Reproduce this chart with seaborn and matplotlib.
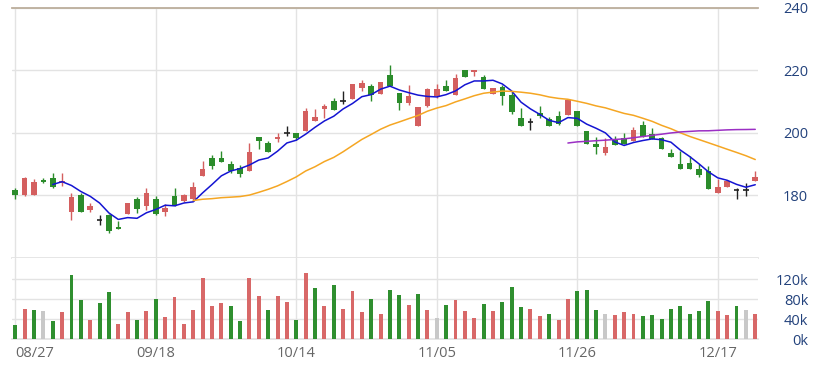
import numpy as np
import pandas as pd
import matplotlib
matplotlib.use("Agg")
import matplotlib.pyplot as plt
import seaborn as sns

# tick labels, one every 15 sessions
tick_labels = ["08/27", "09/18", "10/14", "11/05", "11/26", "12/17"]
price_ticks = [180, 200, 220, 240]
vol_ticks = [0, 40, 80, 120]

# daily prices
open_ = [181.75, 180.2, 180.2, 184.8, 185.7, 183.9, 174.8, 180.1, 175.4, 172.1,
         173.7, 170.0, 174.2, 178.8, 176.5, 178.8, 174.6, 179.8, 178.25, 178.8,
         186.2, 191.9, 192.0, 189.9, 188.9, 187.8, 198.7, 196.8, 197.9, 199.8,
         200.0, 200.5, 203.9, 207.6, 210.0, 210.0, 210.8, 214.3, 214.8, 212.4,
         218.3, 212.7, 209.5, 202.1, 208.5, 211.6, 214.8, 212.0, 220.0, 219.4,
         217.7, 212.4, 214.6, 212.0, 204.8, 203.3, 206.4, 204.4, 205.5, 205.8,
         206.9, 200.5, 196.3, 193.4, 198.1, 198.3, 197.3, 202.6, 199.5, 198.4,
         193.4, 190.1, 190.4, 188.5, 187.8, 180.7, 182.7, 181.8, 181.8, 184.6]
high = [182.5, 186.0, 185.2, 185.7, 187.0, 187.0, 180.9, 180.9, 177.7, 173.7,
        174.0, 171.9, 177.7, 179.6, 182.2, 179.8, 177.2, 182.2, 180.5, 184.2,
        191.0, 192.8, 194.1, 191.0, 189.6, 196.6, 198.7, 197.5, 199.9, 202.1,
        200.0, 207.9, 207.7, 209.2, 211.1, 213.4, 215.6, 217.0, 215.6, 216.1,
        221.7, 212.7, 215.4, 208.1, 214.3, 215.6, 217.0, 218.8, 220.0, 220.1,
        218.5, 214.3, 215.4, 213.4, 207.9, 204.8, 208.7, 205.0, 206.9, 210.6,
        206.9, 200.5, 198.7, 198.4, 198.9, 200.0, 201.9, 203.7, 201.6, 198.6,
        194.9, 194.1, 192.6, 189.9, 189.4, 185.15, 185.0, 182.2, 183.9, 187.8]
low = [179.0, 179.8, 180.0, 183.8, 182.2, 183.0, 172.2, 174.8, 174.8, 170.6,
       168.0, 169.3, 174.2, 174.5, 175.4, 173.7, 173.3, 176.7, 178.0, 178.25,
       186.2, 188.5, 190.6, 187.3, 186.0, 187.8, 194.9, 194.0, 197.1, 198.9,
       197.8, 200.5, 203.9, 204.8, 207.4, 209.2, 210.8, 213.4, 210.0, 212.4,
       214.8, 207.2, 209.0, 202.1, 208.1, 211.1, 213.2, 212.0, 217.9, 218.0,
       214.0, 212.4, 209.0, 206.1, 202.1, 201.0, 204.8, 202.1, 202.6, 205.8,
       202.1, 196.3, 193.1, 192.8, 196.0, 196.3, 197.3, 198.7, 198.1, 194.7,
       192.4, 188.5, 188.3, 186.0, 182.0, 180.7, 182.7, 179.0, 179.8, 184.6]
close = [180.1, 185.7, 184.4, 184.4, 182.8, 184.6, 179.6, 174.8, 176.7, 172.1,
         168.7, 169.3, 177.7, 175.6, 180.9, 174.0, 176.1, 176.7, 180.1, 182.8,
         188.3, 189.4, 190.6, 187.8, 186.7, 194.0, 197.3, 194.0, 198.6, 199.8,
         198.4, 206.9, 205.0, 208.7, 207.4, 210.0, 215.6, 215.9, 212.0, 216.1,
         214.8, 209.5, 211.6, 208.1, 214.0, 214.0, 213.2, 217.5, 217.9, 220.1,
         214.0, 214.3, 211.6, 206.6, 202.3, 203.3, 205.5, 202.1, 202.9, 210.4,
         202.1, 196.3, 195.5, 195.5, 196.0, 196.4, 201.0, 198.7, 198.1, 194.7,
         192.4, 188.5, 188.3, 186.4, 182.0, 182.8, 184.6, 181.8, 181.8, 186.0]
# volume in thousands
volume_k = [28.6, 61, 58.6, 56.6, 36.6, 54.6, 129, 79, 39, 72,
            94, 31, 54.6, 39, 56.6, 81, 44, 84, 31, 58.6,
            122, 66.6, 72, 66.6, 36.6, 122, 86.6, 58.6, 86.6, 74,
            39, 132, 102, 66.6, 109, 61, 96.6, 54.6, 81, 51,
            99, 89, 68.6, 91, 58.6, 43, 68.6, 78.6, 56.6, 43,
            71, 56.6, 74, 104, 64, 61, 46.6, 51, 39, 81,
            96.6, 99, 58.6, 51, 48.6, 54.6, 51, 46, 48.6, 41,
            61, 66, 51, 56.6, 76.6, 56.6, 48.6, 66.6, 58.6, 51]

df = pd.DataFrame({"open": open_, "high": high, "low": low,
                   "close": close, "vol": volume_k})
df["idx"] = np.arange(len(df))
df["ma5"] = df["close"].rolling(5).mean()
df["ma20"] = df["close"].rolling(20).mean()
df["ma60"] = df["close"].rolling(60).mean()

RED, GREEN, BLACK = "#d45f5f", "#2b8c2b", "#222222"
VRED, VGREEN, VGRAY = "#d86868", "#2f8f2f", "#c8c8c8"
GRID = "#e3e3e3"

candle_col = np.where(df.close > df.open, RED,
                      np.where(df.close < df.open, GREEN, BLACK))
prev = df["close"].shift(1).fillna(df["open"])
vol_col = np.where(df.close > prev, VRED,
                   np.where(df.close < prev, VGREEN, VGRAY))

sns.set_theme(style="white")
plt.rcParams["font.family"] = ["Open Sans", "DejaVu Sans"]

W, H = 817, 371
fig = plt.figure(figsize=(W / 100, H / 100), dpi=100)
ax = fig.add_axes([12 / W, (H - 258) / H, 745.5 / W, 250.5 / H])
axv = fig.add_axes([12 / W, (H - 339.3) / H, 745.5 / W, 81.3 / H], sharex=ax)

# candles
ax.vlines(df.idx, df.low, df.high, colors=candle_col, lw=1, zorder=3)
body_lo = np.minimum(df.open, df.close)
body_h = np.abs(df.close - df.open)
ax.bar(df.idx, body_h, bottom=body_lo, width=0.6, color=candle_col,
       linewidth=0, zorder=3)
doji = df[df.close == df.open]
ax.hlines(doji.close, doji.idx - 0.3, doji.idx + 0.3, colors=BLACK, lw=1.2, zorder=3)

# moving averages
sns.lineplot(data=df, x="idx", y="ma5", ax=ax, color="#1414d2", lw=1.1, zorder=4)
sns.lineplot(data=df, x="idx", y="ma20", ax=ax, color="#f5a623", lw=1.1, zorder=4)
sns.lineplot(data=df, x="idx", y="ma60", ax=ax, color="#9b2fc4", lw=1.1, zorder=4)

# volume
axv.bar(df.idx, df.vol, width=0.42, color=vol_col, linewidth=0, zorder=3)

xt = list(range(0, len(df), 15))
for a in (ax, axv):
    a.set_xlim(-0.35, 79.24)
    a.set_xticks(xt)
    a.grid(True, color=GRID, lw=1)
    a.set_xlabel("")
    a.set_ylabel("")
    for s in ("left", "right"):
        a.spines[s].set_visible(False)
    a.tick_params(axis="y", left=False, right=False, labelleft=False,
                  labelright=True, pad=30.5, labelsize=10.5, labelcolor="#23427c")

ax.set_ylim(160, 240)
ax.set_yticks(price_ticks)
ax.set_yticklabels([str(v) for v in price_ticks], ha="right")
ax.spines["top"].set_color("#bcae9c")
ax.spines["top"].set_linewidth(1.3)
ax.spines["bottom"].set_color(GRID)
ax.tick_params(axis="x", labelbottom=False, length=0)

axv.set_ylim(0, 162.6)
axv.set_yticks(vol_ticks)
axv.set_yticklabels([f"{v}k" for v in vol_ticks], ha="right")
axv.spines["top"].set_visible(False)
axv.spines["bottom"].set_color(GRID)
axv.set_xticklabels(tick_labels)
axv.tick_params(axis="x", length=0, pad=5, labelsize=10.5, labelcolor="#666666")
axv.get_xticklabels()[0].set_ha("left")

fig.savefig("out.png", dpi=100)
